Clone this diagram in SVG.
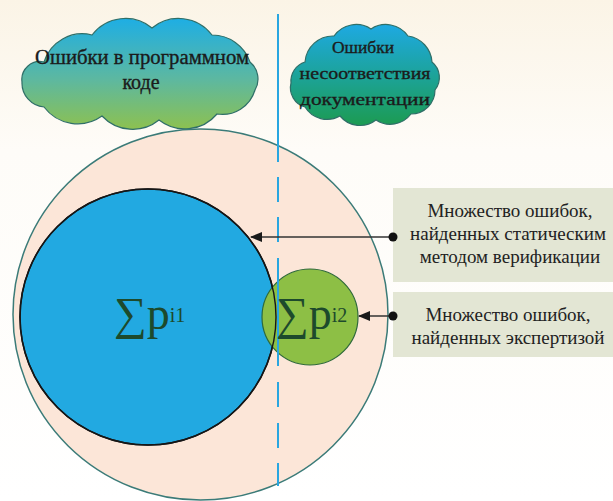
<svg xmlns="http://www.w3.org/2000/svg" width="613" height="501" viewBox="0 0 613 501">
  <defs>
    <linearGradient id="bg" x1="0" y1="0" x2="0" y2="1">
      <stop offset="0" stop-color="#fbf4e6"/>
      <stop offset="0.3" stop-color="#fefcf8"/>
      <stop offset="1" stop-color="#ffffff"/>
    </linearGradient>
    <linearGradient id="cloud1" x1="0" y1="0" x2="0" y2="1">
      <stop offset="0" stop-color="#1eaee4"/>
      <stop offset="0.55" stop-color="#5db8a0"/>
      <stop offset="1" stop-color="#8dc150"/>
    </linearGradient>
    <linearGradient id="cloud2" x1="0" y1="0" x2="0" y2="1">
      <stop offset="0" stop-color="#1ea9e2"/>
      <stop offset="0.5" stop-color="#1ca39a"/>
      <stop offset="1" stop-color="#1c9b52"/>
    </linearGradient>
    <marker id="arr" viewBox="0 0 12 10" refX="11" refY="5" markerWidth="12" markerHeight="10" markerUnits="userSpaceOnUse" orient="auto">
      <path d="M0,0 L12,5 L0,10 Z" fill="#1a1a1a"/>
    </marker>
  </defs>
  <style>
    .cloud { stroke: #2f6f68; stroke-width: 1.2; }
    .ctext { font-family: "Liberation Serif", "DejaVu Serif", serif; fill: #1b1b1b; stroke: #1b1b1b; stroke-width: 0.35; text-anchor: middle; }
    .box { fill: #e3e6d4; }
    .btext { font-family: "Liberation Serif", "DejaVu Serif", serif; font-size: 19px; fill: #222222; text-anchor: middle; }
    .sum { font-family: "Liberation Serif", "DejaVu Serif", serif; fill: #1d4a2c; }
    .conn { stroke: #333333; stroke-width: 1.3; fill: none; }
    .vline { stroke: #29a6e0; stroke-width: 2; fill: none; }
  </style>

  <rect x="0" y="0" width="613" height="501" fill="url(#bg)"/>

  <g id="cloud-code">
    <path class="cloud" fill="url(#cloud1)" d="M44,62 A40,40 0 0 1 92,35 A42,42 0 0 1 152,28 A42,42 0 0 1 212,35 A40,40 0 0 1 250,62 A22,22 0 0 1 255,90 A34,34 0 0 1 217,114 A42,42 0 0 1 159,120 A42,42 0 0 1 102,116 A42,42 0 0 1 44,107 A24,24 0 0 1 22,82 A18,18 0 0 1 44,62 Z"/>
    <text class="ctext" x="142" y="64" font-size="20" textLength="214" lengthAdjust="spacingAndGlyphs">Ошибки в программном</text>
    <text class="ctext" x="141" y="89" font-size="20">коде</text>
  </g>

  <g id="cloud-docs">
    <path class="cloud" fill="url(#cloud2)" d="M305,62 A28,28 0 0 1 334,36 A27,27 0 0 1 371,29 A27,27 0 0 1 408,36 A28,28 0 0 1 432,62 A20,20 0 0 1 435,90 A24,24 0 0 1 411,114 A26,26 0 0 1 376,120 A26,26 0 0 1 340,116 A26,26 0 0 1 305,107 A20,20 0 0 1 291,83 A20,20 0 0 1 305,62 Z"/>
    <text class="ctext" x="363" y="53" font-size="17.5">Ошибки</text>
    <text class="ctext" x="365" y="79" font-size="17.5" textLength="131" lengthAdjust="spacingAndGlyphs">несоответствия</text>
    <text class="ctext" x="365" y="105" font-size="17.5" textLength="130" lengthAdjust="spacingAndGlyphs">документации</text>
  </g>

  <g id="all-errors">
    <ellipse cx="200.5" cy="314.5" rx="187.5" ry="185.5" fill="#fce6d8" stroke="#3b7b78" stroke-width="1.5"/>
  </g>

  <g id="static-set">
    <circle cx="148" cy="317" r="128" fill="#22a9e1" stroke="#161616" stroke-width="1.6"/>
  </g>

  <g id="expert-set">
    <circle cx="310" cy="317" r="48" fill="#8dbf45" stroke="#2f6a3a" stroke-width="1.2"/>
    <circle cx="148" cy="317" r="128" fill="none" stroke="#161616" stroke-width="1.4"/>
  </g>

  <g id="divider">
    <path class="vline" d="M278,14 V162 M278,177 V202 M278,217 V242 M278,258 V366 M278,382 V407 M278,423 V448 M278,463 V486"/>
  </g>

  <g id="sum1">
    <text class="sum" x="114" y="329" font-size="46">∑p<tspan font-size="20" dy="-7">i1</tspan></text>
  </g>
  <g id="sum2">
    <text class="sum" x="276" y="329" font-size="46">∑p<tspan font-size="20" dy="-7">i2</tspan></text>
  </g>

  <g id="label-static">
    <rect class="box" x="393" y="188" width="220" height="94"/>
    <text class="btext" x="510" y="217">Множество ошибок,</text>
    <text class="btext" x="508" y="240">найденных статическим</text>
    <text class="btext" x="510" y="263">методом верификации</text>
  </g>

  <g id="label-expert">
    <rect class="box" x="393" y="292" width="220" height="65"/>
    <text class="btext" x="508" y="321">Множество ошибок,</text>
    <text class="btext" x="508" y="344">найденных экспертизой</text>
  </g>

  <g id="connectors">
    <line class="conn" x1="393" y1="237" x2="251" y2="237" marker-end="url(#arr)"/>
    <circle cx="393" cy="237" r="4.5" fill="#111111"/>
    <line class="conn" x1="393" y1="316" x2="359" y2="316" marker-end="url(#arr)"/>
    <circle cx="393" cy="316" r="4.5" fill="#111111"/>
  </g>
</svg>
